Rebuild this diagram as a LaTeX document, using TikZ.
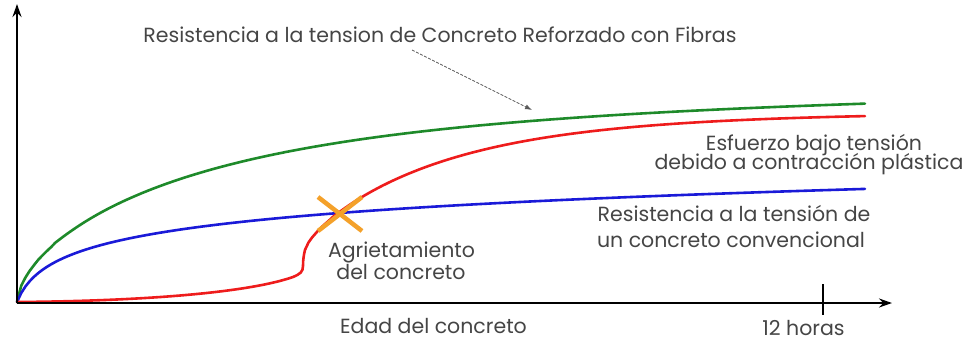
\documentclass[tikz,border=0pt]{standalone}
\usepackage{fontspec}
\setmainfont{Poppins}
\usetikzlibrary{arrows.meta}
\definecolor{txt}{HTML}{454545}
\definecolor{cgreen}{HTML}{1E8A2A}
\definecolor{cred}{HTML}{EE1C1C}
\definecolor{cblue}{HTML}{1A1AD8}
\definecolor{corange}{HTML}{F4A12A}
\tikzset{
  lbl/.style={text=txt, font=\fontsize{20.5}{24}\selectfont, inner sep=0pt, anchor=base},
  axis/.style={line width=2.6pt, black, -{Stealth[length=13pt,width=9pt]}},
  curve/.style={line width=2.6pt, line cap=round, line join=round},
}
\begin{document}
\begin{tikzpicture}[x=1pt,y=-1pt]
\useasboundingbox (0,0) rectangle (969,343);
\coordinate (O) at (17,303);
\coordinate (ytop) at (17,4);
\coordinate (xend) at (892,303);
% curves
\draw[curve, cgreen] plot[domain=0.01:848, samples=200, variable=\t] ({17+\t},{302-(198*tanh((\t/290)^0.59)+0.011*\t)});
\draw[curve, cblue] plot[domain=0:848, samples=200, variable=\t] ({17+\t},{302-25.4*ln(1+\t/10)});
\draw[curve, cred] (17,302) .. controls (150,301) and (250,292) .. (293,277)
   .. controls (300,274) and (303,272) .. (303,266) .. controls (303,259) and (304,254) .. (305,250)
   -- plot[domain=0.01:560, samples=160, variable=\t] ({305+\t},{250-138*tanh((\t/200)^0.72)});
% axes
\draw[axis] (O) -- (ytop);
\draw[axis] (O) -- (xend);
\coordinate (tk1) at (823,284);
\coordinate (tk2) at (823,315);
\draw[line width=2.4pt] (tk1) -- (tk2);
% crack mark
\coordinate (X) at (340,214);
\draw[corange, line width=4.5pt] ([shift={(-22,-17)}]X) -- ([shift={(22,17)}]X);
\draw[corange, line width=4.5pt] ([shift={(22,-17)}]X) -- ([shift={(-22,17)}]X);
% labels
\node[lbl] (ttop) at (440,42.7) {Resistencia a la tension de Concreto Reforzado con Fibras};
\node[lbl] (tred1) at (814,150) {Esfuerzo bajo tensión};
\node[lbl] (tred2) at (809,169) {debido a contracción plástica};
\node[lbl] (tblue1) at (734,221) {Resistencia a la tensión de};
\node[lbl] (tblue2) at (731,247) {un concreto convencional};
\node[lbl] (tcrack1) at (401.5,257) {Agrietamiento};
\node[lbl] (tcrack2) at (401,279) {del concreto};
\node[lbl] (tx) at (433.5,333) {Edad del concreto};
\node[lbl] (t12) at (803.5,335.5) {12 horas};
\coordinate (astart) at (412,50);
\coordinate (aend) at (532,110);
\draw[gray!70!black, line width=0.8pt, dash pattern=on 3pt off 1.5pt, -{Latex[length=7pt,width=5pt]}] (astart) -- (aend);
\end{tikzpicture}
\end{document}
